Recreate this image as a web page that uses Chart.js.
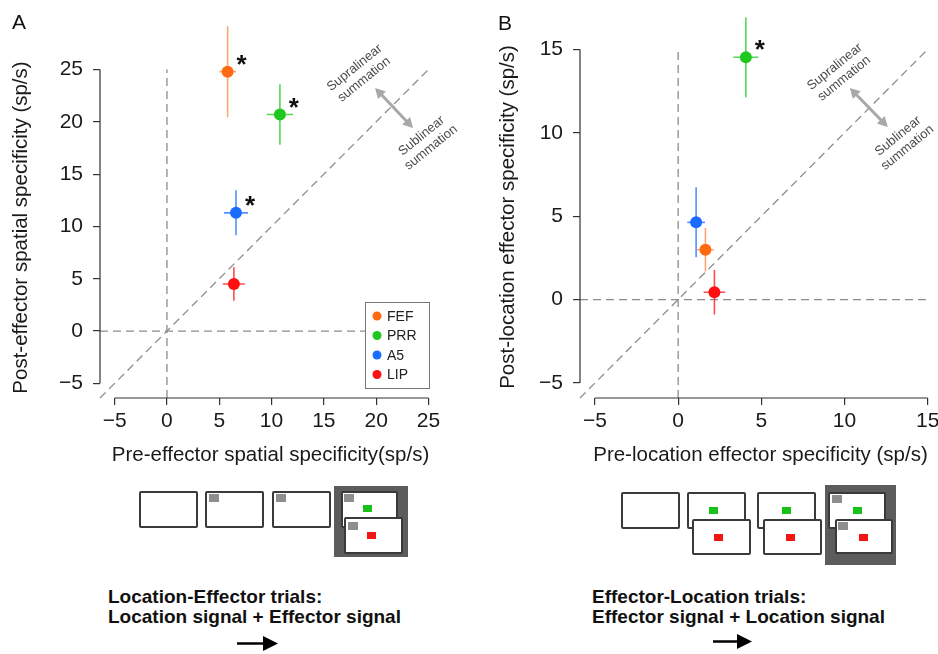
<!DOCTYPE html>
<html>
<head>
<meta charset="utf-8">
<script src="https://cdn.jsdelivr.net/npm/chart.js@4.4.0/dist/chart.umd.min.js"></script>
<style>
  html, body { margin: 0; padding: 0; background: #fff; }
  body { width: 938px; height: 654px; position: relative; overflow: hidden; font-family: "Liberation Sans", Arial, sans-serif; color: #111; }
  #chartA { position: absolute; left: 0; top: 0; }
  #chartB { position: absolute; left: 469px; top: 0; }
  .lbl { position: absolute; font-size: 21px; line-height: 21px; }
  .scr { position: absolute; background: #fff; border: 2px solid #3a3a3a; border-radius: 2px; box-sizing: border-box; width: 59px; height: 37px; }
  .dk { position: absolute; background: #5c5c5c; }
  .sq { position: absolute; width: 10px; height: 8px; background: #8e8e8e; }
  .gr { position: absolute; width: 9px; height: 7px; background: #17c317; }
  .rd { position: absolute; width: 9px; height: 7px; background: #f31414; }
  .cap { position: absolute; font-weight: bold; font-size: 19px; line-height: 20px; white-space: nowrap; }
  .arr { position: absolute; }
</style>
</head>
<body>
<canvas id="chartA" width="469" height="470"></canvas>
<canvas id="chartB" width="490" height="470"></canvas>
<div class="lbl" style="left:12px;top:11px">A</div>
<div class="lbl" style="left:498px;top:12px">B</div>

<!-- trial schematic, location-effector -->
<div class="scr" style="left:139px;top:491px"></div>
<div class="scr" style="left:205px;top:491px"></div>
<div class="sq" style="left:209px;top:494px"></div>
<div class="scr" style="left:272px;top:491px"></div>
<div class="sq" style="left:276px;top:494px"></div>
<div class="dk" style="left:334px;top:486px;width:74px;height:71px"></div>
<div class="scr" style="left:341px;top:491px;width:57px"></div>
<div class="sq" style="left:344px;top:494px"></div>
<div class="gr" style="left:363px;top:505px"></div>
<div class="scr" style="left:344px;top:517px"></div>
<div class="sq" style="left:348px;top:522px"></div>
<div class="rd" style="left:367px;top:532px"></div>
<div class="cap" style="left:108px;top:587px">Location-Effector trials:<br>Location signal + Effector signal</div>
<svg class="arr" style="left:236px;top:635px" width="44" height="17"><line x1="1" y1="8.5" x2="30" y2="8.5" stroke="#000" stroke-width="2.5"/><polygon points="27,1 42,8.5 27,16" fill="#000"/></svg>

<!-- trial schematic, effector-location -->
<div class="scr" style="left:621px;top:492px"></div>
<div class="scr" style="left:687px;top:492px"></div>
<div class="gr" style="left:709px;top:507px"></div>
<div class="scr" style="left:692px;top:519px;height:36px"></div>
<div class="rd" style="left:714px;top:534px"></div>
<div class="scr" style="left:757px;top:492px"></div>
<div class="gr" style="left:782px;top:507px"></div>
<div class="scr" style="left:763px;top:519px;height:36px"></div>
<div class="rd" style="left:786px;top:534px"></div>
<div class="dk" style="left:825px;top:485px;width:71px;height:80px"></div>
<div class="scr" style="left:828px;top:492px;width:58px"></div>
<div class="sq" style="left:832px;top:495px"></div>
<div class="gr" style="left:853px;top:507px"></div>
<div class="scr" style="left:835px;top:519px;width:58px;height:35px"></div>
<div class="sq" style="left:838px;top:522px"></div>
<div class="rd" style="left:859px;top:534px"></div>
<div class="cap" style="left:592px;top:587px">Effector-Location trials:<br>Effector signal + Location signal</div>
<svg class="arr" style="left:712px;top:633px" width="44" height="17"><line x1="1" y1="8.5" x2="28" y2="8.5" stroke="#000" stroke-width="2.5"/><polygon points="25,1 40,8.5 25,16" fill="#000"/></svg>

<script>
// regions (same order in both panels)
const regions = ['FEF', 'PRR', 'A5', 'LIP'];

// Panel A: location-effector trials (sp/s), mean and s.e.
const preEffector = [5.8, 10.8, 6.6, 6.4];
const preEffectorErr = [0.8, 1.25, 1.15, 1.05];
const postEffector = [24.8, 20.7, 11.3, 4.5];
const postEffectorErr = [4.35, 2.9, 2.15, 1.6];
const sigA = [true, true, true, false];
const ticksA = [-5, 0, 5, 10, 15, 20, 25];

// Panel B: effector-location trials
const preLocation = [1.64, 4.07, 1.08, 2.18];
const preLocationErr = [0.52, 0.75, 0.53, 0.65];
const postLocation = [2.99, 14.53, 4.63, 0.44];
const postLocationErr = [1.3, 2.4, 2.1, 1.33];
const sigB = [false, true, false, false];
const ticksB = [-5, 0, 5, 10, 15];

const colors = ['#ff6a10', '#1ec81e', '#1a6cff', '#ff1010'];
const errColors = ['rgba(255,120,40,0.65)', 'rgba(30,200,30,0.75)', 'rgba(26,108,255,0.75)', 'rgba(255,16,16,0.75)'];
const FONT = '"Liberation Sans", Arial, sans-serif';
Chart.defaults.font.family = FONT;
Chart.defaults.color = '#1a1a1a';

function buildDatasets(xs, xe, ys, ye, sig, lo, top) {
  const sets = regions.map((r, i) => ({
    label: r,
    data: [{ x: xs[i], y: ys[i] }],
    xErr: xe[i],
    yErr: ye[i],
    sig: sig[i],
    errColor: errColors[i],
    backgroundColor: colors[i],
    borderWidth: 0,
    pointRadius: 6,
    pointHoverRadius: 6,
    clip: false,
    order: 1
  }));
  const ref = { borderColor: '#8c8c8c', borderWidth: 1.3, borderDash: [8, 5], pointRadius: 0, showLine: true, fill: false, clip: false, order: 5 };
  sets.push({ ...ref, label: 'diag', data: [{ x: lo, y: lo }, { x: top, y: top }] });
  sets.push({ ...ref, label: 'x0', data: [{ x: 0, y: lo }, { x: 0, y: top }] });
  sets.push({ ...ref, label: 'y0', data: [{ x: lo, y: 0 }, { x: top, y: 0 }] });
  return sets;
}

// error bars under each point
const errorBars = {
  id: 'errorBars',
  beforeDatasetDraw(chart, args) {
    const ds = chart.data.datasets[args.index];
    if (ds.xErr === undefined) return;
    const { x, y } = chart.scales;
    const ctx = chart.ctx;
    const p = ds.data[0];
    const px = x.getPixelForValue(p.x), py = y.getPixelForValue(p.y);
    ctx.save();
    ctx.strokeStyle = ds.errColor;
    ctx.lineWidth = 1.6;
    ctx.beginPath();
    ctx.moveTo(x.getPixelForValue(p.x - ds.xErr), py);
    ctx.lineTo(x.getPixelForValue(p.x + ds.xErr), py);
    ctx.moveTo(px, y.getPixelForValue(p.y - ds.yErr));
    ctx.lineTo(px, y.getPixelForValue(p.y + ds.yErr));
    ctx.stroke();
    ctx.restore();
  }
};

function rotText(ctx, lines, x, y) {
  ctx.save();
  ctx.translate(x, y);
  ctx.rotate(-39 * Math.PI / 180);
  ctx.font = '13px ' + FONT;
  ctx.fillStyle = '#4a4a4a';
  ctx.textAlign = 'center';
  ctx.textBaseline = 'middle';
  lines.forEach((t, i) => ctx.fillText(t, 0, (i - (lines.length - 1) / 2) * 15));
  ctx.restore();
}

function doubleArrow(ctx, x1, y1, x2, y2) {
  const a = Math.atan2(y2 - y1, x2 - x1);
  const head = 10, hw = 5.5;
  ctx.save();
  ctx.strokeStyle = ctx.fillStyle = '#a8a8a8';
  ctx.lineWidth = 3;
  ctx.beginPath();
  ctx.moveTo(x1 + Math.cos(a) * head * 0.8, y1 + Math.sin(a) * head * 0.8);
  ctx.lineTo(x2 - Math.cos(a) * head * 0.8, y2 - Math.sin(a) * head * 0.8);
  ctx.stroke();
  [[x1, y1, a + Math.PI], [x2, y2, a]].forEach(([x, y, b]) => {
    ctx.beginPath();
    ctx.moveTo(x, y);
    ctx.lineTo(x - Math.cos(b) * head + Math.sin(b) * hw, y - Math.sin(b) * head - Math.cos(b) * hw);
    ctx.lineTo(x - Math.cos(b) * head - Math.sin(b) * hw, y - Math.sin(b) * head + Math.cos(b) * hw);
    ctx.closePath();
    ctx.fill();
  });
  ctx.restore();
}

// R-style axis lines, annotations, stars and legend
const decor = {
  id: 'decor',
  afterDatasetsDraw(chart, args, opts) {
    const { ctx, chartArea: area } = chart;
    const { x, y } = chart.scales;
    const t = opts.ticks;
    ctx.save();
    ctx.strokeStyle = '#333';
    ctx.lineWidth = 1.2;
    ctx.beginPath();
    ctx.moveTo(area.left, y.getPixelForValue(t[0]));
    ctx.lineTo(area.left, y.getPixelForValue(t[t.length - 1]));
    ctx.moveTo(x.getPixelForValue(t[0]), area.bottom);
    ctx.lineTo(x.getPixelForValue(t[t.length - 1]), area.bottom);
    ctx.stroke();

    rotText(ctx, ['Supralinear', 'summation'], x.getPixelForValue(opts.supra[0]), y.getPixelForValue(opts.supra[1]));
    rotText(ctx, ['Sublinear', 'summation'], x.getPixelForValue(opts.sub[0]), y.getPixelForValue(opts.sub[1]));
    const ar = opts.arrow;
    doubleArrow(ctx, x.getPixelForValue(ar[0]), y.getPixelForValue(ar[1]), x.getPixelForValue(ar[2]), y.getPixelForValue(ar[3]));

    // significance stars
    ctx.font = 'bold 26px ' + FONT;
    ctx.fillStyle = '#111';
    ctx.textAlign = 'center';
    ctx.textBaseline = 'alphabetic';
    chart.data.datasets.forEach(ds => {
      if (!ds.sig) return;
      const p = ds.data[0];
      ctx.fillText('*', x.getPixelForValue(p.x) + 14, y.getPixelForValue(p.y) - 14 + 15);
    });

    if (opts.legend) {
      const lw = 64, lh = 86;
      const bx = area.right - 12 - lw, by = area.bottom - 10 - lh;
      ctx.fillStyle = '#fff';
      ctx.fillRect(bx, by, lw, lh);
      ctx.strokeStyle = '#777';
      ctx.lineWidth = 1;
      ctx.strokeRect(bx + 0.5, by + 0.5, lw, lh);
      ctx.font = '14px ' + FONT;
      ctx.textAlign = 'left';
      ctx.textBaseline = 'middle';
      regions.forEach((r, i) => {
        const cy = by + 14 + i * 19.5;
        ctx.fillStyle = colors[i];
        ctx.beginPath();
        ctx.arc(bx + 12, cy, 4.5, 0, Math.PI * 2);
        ctx.fill();
        ctx.fillStyle = '#222';
        ctx.fillText(r, bx + 22, cy + 1);
      });
    }
    ctx.restore();
  }
};

function axis(title, ticks, min, max, pos, size, titlePad) {
  return {
    type: 'linear',
    position: pos,
    min: min,
    max: max,
    afterBuildTicks: s => { s.ticks = ticks.map(v => ({ value: v })); },
    afterFit: s => { if (pos === 'left') s.width = size; else s.height = size; },
    grid: { drawOnChartArea: false, drawTicks: true, tickLength: 7, color: '#333', lineWidth: 1.2 },
    border: { display: false },
    ticks: {
      autoSkip: false,
      maxRotation: 0,
      padding: pos === 'left' ? 10 : 4,
      font: { size: 21 },
      color: '#1a1a1a',
      callback: v => String(v).replace('-', '\u2212')
    },
    title: { display: true, text: title, font: { size: 20.5 }, color: '#1a1a1a', padding: titlePad }
  };
}

const chartA = new Chart(document.getElementById('chartA'), {
  type: 'scatter',
  data: { datasets: buildDatasets(preEffector, preEffectorErr, postEffector, postEffectorErr, sigA, -6.4, 25) },
  options: {
    responsive: false,
    animation: false,
    events: [],
    layout: { padding: { top: 57, right: 28, left: 0, bottom: 0 } },
    scales: {
      x: axis('Pre-effector spatial specificity(sp/s)', ticksA, -6.4, 26.2, 'bottom', 72, { top: 0, bottom: 2 }),
      y: axis('Post-effector spatial specificity (sp/s)', ticksA, -6.4, 26.2, 'left', 100, { top: 9, bottom: 0 })
    },
    plugins: {
      legend: { display: false },
      tooltip: { enabled: false },
      decor: { ticks: ticksA, legend: true, supra: [18.4, 24.6], sub: [24.8, 18.1], arrow: [19.9, 23.24, 23.52, 19.41] }
    }
  },
  plugins: [errorBars, decor]
});

const chartB = new Chart(document.getElementById('chartB'), {
  type: 'scatter',
  data: { datasets: buildDatasets(preLocation, preLocationErr, postLocation, postLocationErr, sigB, -5.9, 15) },
  options: {
    responsive: false,
    animation: false,
    events: [],
    layout: { padding: { top: 36, right: 18, left: 0, bottom: 0 } },
    scales: {
      x: axis('Pre-location effector specificity (sp/s)', ticksB, -5.9, 15.8, 'bottom', 72, { top: 0, bottom: 2 }),
      y: axis('Post-location effector specificity (sp/s)', ticksB, -5.9, 15.8, 'left', 111, { top: 27, bottom: 0 })
    },
    plugins: {
      legend: { display: false },
      tooltip: { enabled: false },
      decor: { ticks: ticksB, legend: false, supra: [9.7, 13.6], sub: [13.5, 9.45], arrow: [10.32, 12.68, 12.6, 10.35] }
    }
  },
  plugins: [errorBars, decor]
});
</script>
</body>
</html>
